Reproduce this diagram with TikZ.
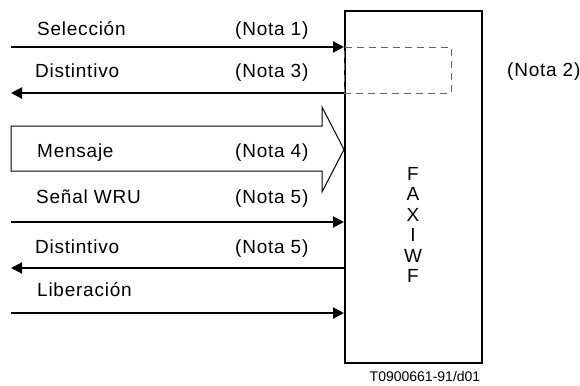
\documentclass[tikz,border=0pt]{standalone}
\usepackage{fontspec}
\setmainfont{Liberation Sans}[LetterSpace=4]
\newfontfamily\idfont{Liberation Sans}
\usetikzlibrary{arrows.meta}
\begin{document}
\begin{tikzpicture}[x=1pt,y=-1pt,
  lbl/.style={anchor=base west, inner sep=0pt, font=\fontsize{19}{20}\selectfont},
  sig/.style={line width=2pt, -{Triangle[length=11pt,width=11pt]}},
  bigarrow/.style={draw, line width=1pt},
  ]
\useasboundingbox (0,0) rectangle (580,385);
% main box
\node[draw, line width=2pt, minimum width=137pt, minimum height=352pt, anchor=north west, inner sep=0pt] (box) at (344,10) {};
% dashed region
\node[draw, dash pattern=on 7pt off 5pt, draw=black!60, line width=0.9pt, minimum width=107pt, minimum height=46pt, anchor=north west, inner sep=0pt] (dash) at (344,47) {};
\node[lbl] (n2) at (507,77) {(Nota 2)};
% start points
\coordinate (a1) at (11,47);
\coordinate (a2) at (11,93);
\coordinate (a4) at (11,222);
\coordinate (a5) at (11,268);
\coordinate (a6) at (11,313);
\draw[sig] (a1) -- (a1 -| box.west);
\draw[sig] (a2 -| box.west) -- (a2);
\draw[sig] (a4) -- (a4 -| box.west);
\draw[sig] (a5 -| box.west) -- (a5);
\draw[sig] (a6) -- (a6 -| box.west);
% big message arrow
\draw[bigarrow] (11,126) -- (322,126) -- (322,107) -- (344,149.5) -- (322,192) -- (322,171) -- (11,171) -- cycle;
% labels
\node[lbl] (l1) at (37,36) {Selección};
\node[lbl] (r1) at (235,36) {(Nota 1)};
\node[lbl] (l2) at (35,78) {Distintivo};
\node[lbl] (r2) at (235,78) {(Nota 3)};
\node[lbl] (l3) at (37,157) {Mensaje};
\node[lbl] (r3) at (235,157) {(Nota 4)};
\node[lbl] (l4) at (36,203) {Señal WRU};
\node[lbl] (r4) at (235,203) {(Nota 5)};
\node[lbl] (l5) at (35,253) {Distintivo};
\node[lbl] (r5) at (235,253) {(Nota 5)};
\node[lbl] (l6) at (37,296) {Liberación};
% FAXIWF
\node[inner sep=0pt, align=center, font=\fontsize{19}{20.4}\selectfont] (fx) at (413,225) {F\\A\\X\\I\\W\\F};
% figure id
\node[anchor=base, inner sep=0pt, font=\idfont\fontsize{14}{16}\selectfont] (id) at (425,381) {T0900661-91/d01};
\end{tikzpicture}
\end{document}
